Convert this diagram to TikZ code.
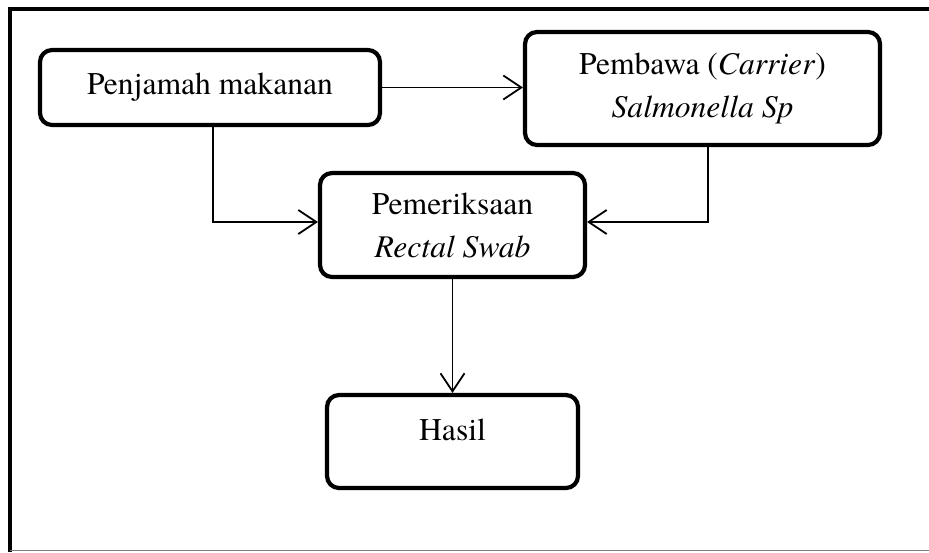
\documentclass[tikz,border=0pt]{standalone}
\usepackage{fontspec}
\setmainfont{texgyretermes}[Extension=.otf, UprightFont=*-regular, ItalicFont=*-italic, BoldFont=*-bold]
\usetikzlibrary{arrows.meta,positioning}

\tikzset{
  kotak/.style={draw, line width=2.1pt, rounded corners=6pt, align=center,
    font=\fontsize{15.8}{21.5}\selectfont, inner sep=0pt},
  panah/.style={line width=0.9pt, -{Straight Barb[length=9pt,width=12pt,line width=0.9pt]}}
}

\begin{document}
\begin{tikzpicture}[x=0.5pt, y=-0.5pt]
    \useasboundingbox (0,0) rectangle (929,552);

    % Rahmen
    \draw[line width=2.3pt] (10,9) -- (935,9);
    \draw[line width=2.3pt] (10,7) -- (10,552);
    \draw[gray, line width=0.6pt] (10,550.5) -- (929,550.5);

    % Kotak-kotak
    \node[kotak, minimum width=170pt, minimum height=37.5pt] (penjamah) at (210,87.5) {Penjamah makanan};
    \node[kotak, minimum width=177.5pt, minimum height=56.5pt] (pembawa) at (702.5,88.5) {Pembawa (\textit{Carrier})\\\textit{Salmonella Sp}};
    \node[kotak, minimum width=132.5pt, minimum height=52pt] (periksa) at (452.5,225) {Pemeriksaan\\\textit{Rectal Swab}};
    \node[kotak, minimum width=125.5pt, minimum height=46.5pt, text depth=11.5pt] (hasil) at (452.5,441.5) {Hasil};

    % Panah
    \draw[panah] (penjamah.east) -- (penjamah.east -| pembawa.west);
    \draw[panah] ([xshift=1.5pt]penjamah.south) |- ([yshift=1.5pt]periksa.west);
    \draw[panah] ([xshift=2.75pt]pembawa.south) |- ([yshift=1.5pt]periksa.east);
    \draw[panah] (periksa.south) -- (hasil.north);
\end{tikzpicture}
\end{document}
